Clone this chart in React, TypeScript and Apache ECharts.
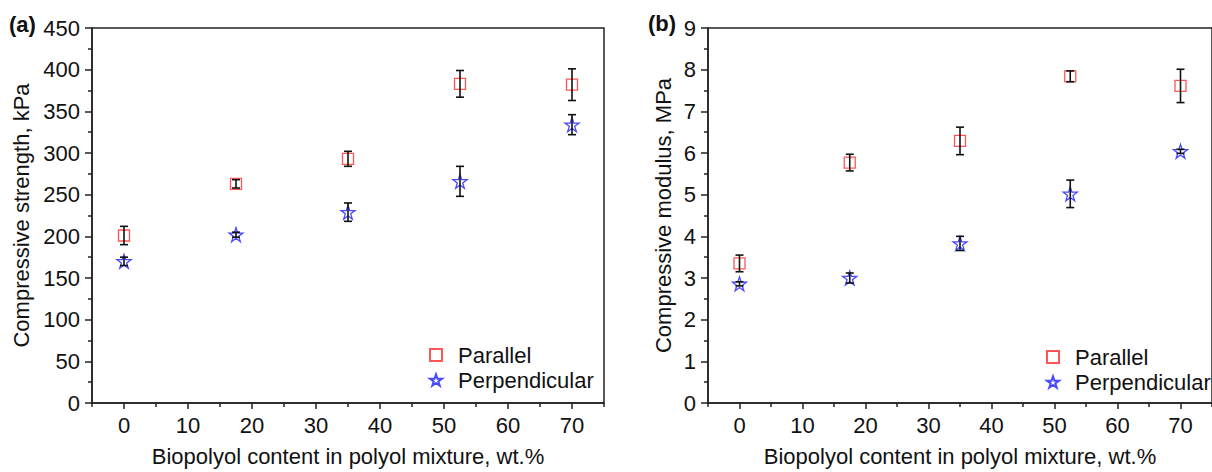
import React, { useEffect, useRef } from 'react';
import * as echarts from 'echarts';

const xValues = [0, 17.5, 35, 52.5, 70];

const strengthParallel = [201, 263, 293, 383, 382];
const strengthParallelErr = [11, 5, 9, 16, 19];
const strengthPerp = [170, 202, 229, 266, 334];
const strengthPerpErr = [5, 3, 11, 18, 12];

const modulusParallel = [3.35, 5.77, 6.29, 7.84, 7.61];
const modulusParallelErr = [0.2, 0.2, 0.33, 0.13, 0.4];
const modulusPerp = [2.86, 3.0, 3.83, 5.02, 6.04];
const modulusPerpErr = [0.05, 0.12, 0.17, 0.33, 0.05];

const xTickValues = [0, 10, 20, 30, 40, 50, 60, 70];
const xMinorTickValues = [-5, 5, 15, 25, 35, 45, 55, 65, 75];
const seriesNames = ['Parallel', 'Perpendicular'];
const xAxisTitle = 'Biopolyol content in polyol mixture, wt.%';
const yAxisTitles = ['Compressive strength, kPa', 'Compressive modulus, MPa'];
const panelLabels = ['(a)', '(b)'];

const STAR =
  'path://M50,2 L61.8,37.6 L99,37.6 L68.9,59.5 L80.3,95 L50,73 L19.7,95 L31.1,59.5 L1,37.6 L38.2,37.6 Z';

const FONT = 'Liberation Sans, Arial, sans-serif';
const FS = 22;
const RED = '#ff2a2a';
const BLUE = '#1a1aff';
const AXIS = '#222';

const pairs = (ys: number[]) => xValues.map((x, i) => [x, ys[i]]);
const errs = (ys: number[], es: number[]) =>
  xValues.map((x, i) => [x, ys[i] - es[i], ys[i] + es[i]]);

const errorRender = (params: any, api: any) => {
  const x = api.value(0);
  const lo = api.value(1);
  const hi = api.value(2);
  const p1 = api.coord([x, hi]);
  const p2 = api.coord([x, lo]);
  const w = 4;
  const style = { stroke: '#111', lineWidth: 1.6, fill: 'none' };
  return {
    type: 'group',
    children: [
      { type: 'line', shape: { x1: p1[0], y1: p1[1], x2: p2[0], y2: p2[1] }, style },
      { type: 'line', shape: { x1: p1[0] - w, y1: p1[1], x2: p1[0] + w, y2: p1[1] }, style },
      { type: 'line', shape: { x1: p2[0] - w, y1: p2[1], x2: p2[0] + w, y2: p2[1] }, style },
    ],
  };
};

const gridLefts = [92, 708];

function mainX(gridIndex: number) {
  return {
    type: 'value',
    gridIndex,
    min: -5,
    max: 75,
    name: xAxisTitle,
    nameLocation: 'middle',
    nameGap: 42,
    nameTextStyle: { fontFamily: FONT, fontSize: FS, color: '#111' },
    axisLine: { show: true, onZero: false, lineStyle: { color: AXIS, width: 1.5 } },
    axisTick: {
      show: true,
      inside: false,
      length: 6,
      customValues: xTickValues,
      lineStyle: { color: AXIS, width: 1.5 },
    },
    axisLabel: {
      show: true,
      customValues: xTickValues,
      margin: 11,
      fontFamily: FONT,
      fontSize: FS,
      color: '#111',
    },
    splitLine: { show: false },
  };
}

function minorX(gridIndex: number) {
  return {
    type: 'value',
    gridIndex,
    min: -5,
    max: 75,
    position: 'bottom',
    axisLine: { show: false, onZero: false },
    axisTick: {
      show: true,
      inside: false,
      length: 4,
      customValues: xMinorTickValues,
      lineStyle: { color: AXIS, width: 1.5 },
    },
    axisLabel: { show: false },
    splitLine: { show: false },
  };
}

function yAx(gridIndex: number, max: number, interval: number) {
  return {
    type: 'value',
    gridIndex,
    min: 0,
    max,
    interval,
    name: yAxisTitles[gridIndex],
    nameLocation: 'middle',
    nameGap: gridIndex === 0 ? 60 : 34,
    nameTextStyle: { fontFamily: FONT, fontSize: FS, color: '#111' },
    axisLine: { show: true, onZero: false, lineStyle: { color: AXIS, width: 1.5 } },
    axisTick: { show: true, inside: false, length: 7, lineStyle: { color: AXIS, width: 1.5 } },
    minorTick: { show: true, splitNumber: 2, length: 4, lineStyle: { color: AXIS, width: 1.5 } },
    axisLabel: { margin: 12, fontFamily: FONT, fontSize: FS, color: '#111' },
    splitLine: { show: false },
  };
}

function scatter(name: string, xi: number, yi: number, data: number[][]) {
  const isPar = name === seriesNames[0];
  return {
    type: 'scatter',
    name,
    xAxisIndex: xi,
    yAxisIndex: yi,
    data,
    symbol: isPar ? 'rect' : STAR,
    symbolSize: isPar ? 11 : 14,
    itemStyle: {
      color: 'transparent',
      borderColor: isPar ? RED : BLUE,
      borderWidth: 1.3,
    },
    z: 2,
  };
}

function errSeries(xi: number, yi: number, data: number[][]) {
  return {
    type: 'custom',
    name: 'err',
    xAxisIndex: xi,
    yAxisIndex: yi,
    data,
    encode: { x: 0, y: [1, 2] },
    renderItem: errorRender,
    silent: true,
    z: 3,
  };
}

function legend(left: number, top: number) {
  return {
    show: true,
    data: seriesNames,
    orient: 'vertical',
    left,
    top,
    itemWidth: 12,
    itemHeight: 12,
    itemGap: 3,
    textStyle: { fontFamily: FONT, fontSize: FS, color: '#111', padding: [0, 0, 0, 11] },
  };
}

export default function App() {
  const ref = useRef<HTMLDivElement>(null);
  useEffect(() => {
    if (!ref.current) return;
    const chart = echarts.init(ref.current, null, { renderer: 'svg' });
    const option: any = {
      animation: false,
      backgroundColor: '#fff',
      grid: gridLefts.map((left) => ({
        left,
        top: 28,
        width: 512,
        height: 378,
        show: true,
        borderColor: AXIS,
        borderWidth: 1.5,
        backgroundColor: 'transparent',
        containLabel: false,
      })),
      xAxis: [mainX(0), minorX(0), mainX(1), minorX(1)],
      yAxis: [yAx(0, 450, 50), yAx(1, 9, 1)],
      legend: [legend(424, 339), legend(1041, 341)],
      series: [
        scatter(seriesNames[0], 0, 0, pairs(strengthParallel)),
        scatter(seriesNames[1], 0, 0, pairs(strengthPerp)),
        errSeries(0, 0, errs(strengthParallel, strengthParallelErr)),
        errSeries(0, 0, errs(strengthPerp, strengthPerpErr)),
        scatter(seriesNames[0], 2, 1, pairs(modulusParallel)),
        scatter(seriesNames[1], 2, 1, pairs(modulusPerp)),
        errSeries(2, 1, errs(modulusParallel, modulusParallelErr)),
        errSeries(2, 1, errs(modulusPerp, modulusPerpErr)),
      ],
      graphic: [
        {
          type: 'text',
          left: 9,
          top: 13,
          style: { text: panelLabels[0], fontFamily: FONT, fontSize: FS, fontWeight: 'bold', fill: '#111' },
        },
        {
          type: 'text',
          left: 648,
          top: 12,
          style: { text: panelLabels[1], fontFamily: FONT, fontSize: FS, fontWeight: 'bold', fill: '#111' },
        },
      ],
    };
    chart.setOption(option);
    return () => chart.dispose();
  }, []);
  return (
    <div
      ref={ref}
      style={{ position: 'absolute', left: 0, top: 0, width: 1212, height: 472 }}
    />
  );
}
